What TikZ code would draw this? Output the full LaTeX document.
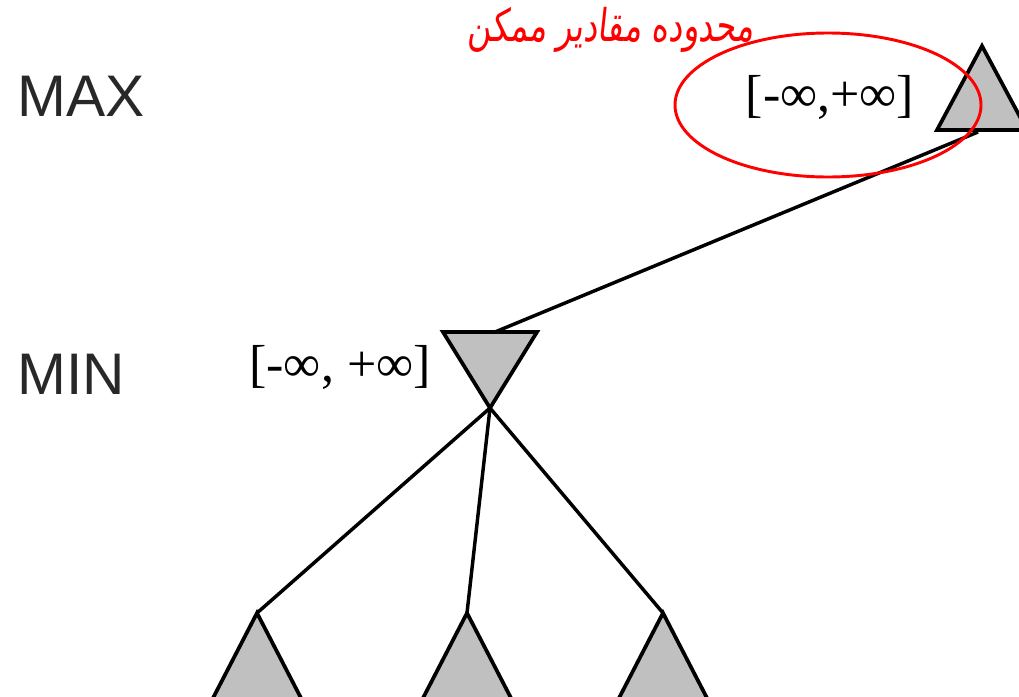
\documentclass[tikz,border=0pt]{standalone}
\usepackage{fontspec}
\setmainfont{Liberation Serif}
\newfontfamily\levelfont{Liberation Sans}
\newfontfamily\arabicfont[Script=Arabic,FakeSlant=0.15]{DejaVu Sans}
\TeXXeTstate=1
\definecolor{trigray}{RGB}{192,192,192}
\definecolor{levelgray}{RGB}{40,40,40}
\begin{document}
\begin{tikzpicture}[x=0.75pt,y=-0.75pt,
  tri/.style={fill=trigray,draw=black,line width=2.8pt,line join=miter},
  edge/.style={draw=black,line width=2.6pt},
  levellabel/.style={font=\levelfont\fontsize{44pt}{44pt}\selectfont,text=levelgray,inner sep=0pt,anchor=base west},
  rangelabel/.style={font=\fontsize{39pt}{39pt}\selectfont,inner sep=0pt,anchor=base},
  notelabel/.style={font=\arabicfont\fontsize{27pt}{27pt}\selectfont,text=red,inner sep=0pt},
  boundary/.style={draw=red,line width=2.2pt}]
\useasboundingbox (0,0) rectangle (1019,696);
\clip (0,0) rectangle (1019,696);
% coordinates
\coordinate (maxA) at (982,46);
\coordinate (maxL) at (937,130);
\coordinate (maxR) at (1027,130);
\coordinate (maxB) at (978,132);
\coordinate (minL) at (443,332);
\coordinate (minR) at (537,332);
\coordinate (minA) at (490,408);
\coordinate (minT) at (495,332);
\coordinate (l1A) at (257,613);
\coordinate (l1L) at (212,700);
\coordinate (l1R) at (302,700);
\coordinate (l2A) at (467,613);
\coordinate (l2L) at (422,700);
\coordinate (l2R) at (512,700);
\coordinate (l3A) at (663,613);
\coordinate (l3L) at (618,700);
\coordinate (l3R) at (708,700);
% connectors
\draw[edge] (maxB) -- (minT);
\draw[edge] (minA) -- (l1A);
\draw[edge] (minA) -- (l2A);
\draw[edge] (minA) -- (l3A);
% triangles
\draw[tri] (maxA) -- (maxR) -- (maxL) -- cycle;
\draw[tri] (minL) -- (minR) -- (minA) -- cycle;
\draw[tri] (l1A) -- (l1R) -- (l1L) -- cycle;
\draw[tri] (l2A) -- (l2R) -- (l2L) -- cycle;
\draw[tri] (l3A) -- (l3R) -- (l3L) -- cycle;
% labels
\node[levellabel] (maxlabel) at (17,116) {MAX};
\node[levellabel] (minlabel) at (17,394) {MIN};
\node[rangelabel] (maxrange) at (830,111) {[-∞,+∞]};
\node[rangelabel] (minrange) at (340,381) {[-∞, +∞]};
\node[notelabel,xscale=0.9,yscale=1.25] (notetext) at (611,30) {\beginR محدوده مقادیر ممکن\endR};
\draw[boundary] (828,105) ellipse [x radius=153, y radius=72];
\end{tikzpicture}
\end{document}
